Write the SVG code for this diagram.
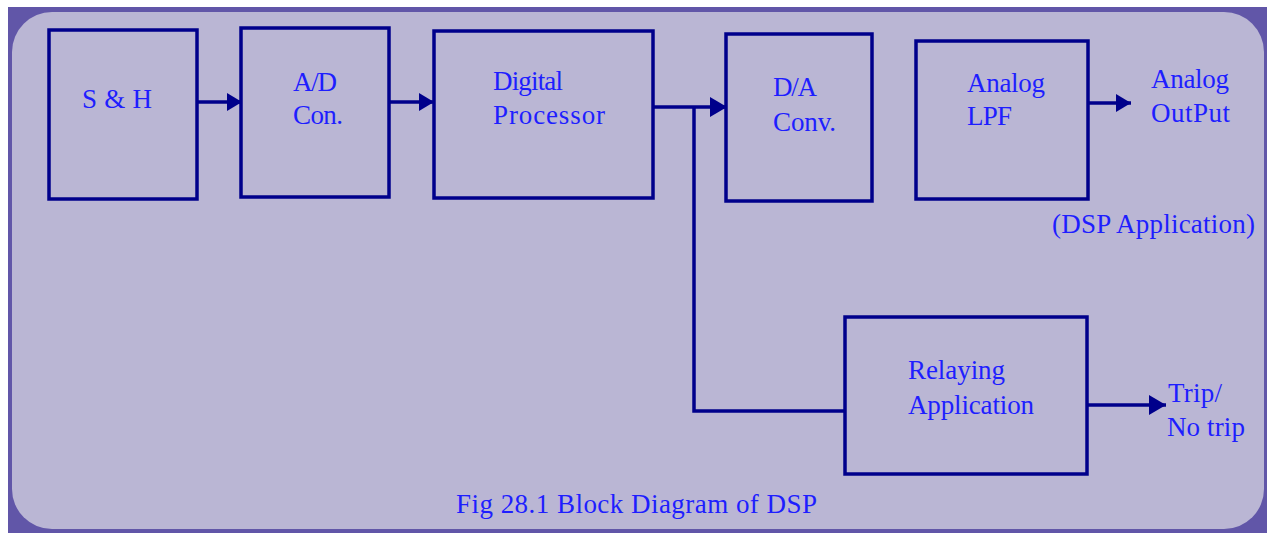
<svg xmlns="http://www.w3.org/2000/svg" width="1267" height="533" viewBox="0 0 1267 533">
<style>
.box{fill:none;stroke:#00008B;stroke-width:3.5}
.ln{fill:none;stroke:#00008B;stroke-width:3.5}
.t{font-family:"Liberation Serif","Times New Roman",serif;font-size:27px;fill:#1E1EFF}
</style>
<defs>
<marker id="ah" markerUnits="userSpaceOnUse" markerWidth="15" markerHeight="18" refX="15" refY="9" orient="auto">
<path d="M0,0 L15,9 L0,18 Z" fill="#00008B"/>
</marker>
<marker id="ah2" markerUnits="userSpaceOnUse" markerWidth="17" markerHeight="20" refX="17" refY="10" orient="auto">
<path d="M0,0 L17,10 L0,20 Z" fill="#00008B"/>
</marker>
</defs>
<rect x="8" y="7" width="1259" height="526" fill="#6156A8"/>
<rect x="12" y="12" width="1252" height="517" rx="40" ry="40" fill="#BAB6D4"/>

<g id="connectors">
<line class="ln" x1="197" y1="102" x2="242" y2="102" marker-end="url(#ah)"/>
<line class="ln" x1="389" y1="102" x2="434" y2="102" marker-end="url(#ah)"/>
<line class="ln" x1="653" y1="107" x2="727" y2="107" marker-end="url(#ah2)"/>
<polyline class="ln" points="694,107 694,411 845,411"/>
<line class="ln" x1="1088" y1="103" x2="1131" y2="103" marker-end="url(#ah)"/>
<line class="ln" x1="1088" y1="405" x2="1166" y2="405" marker-end="url(#ah2)"/>
</g>

<g id="sh">
<rect class="box" x="49" y="30" width="148" height="169"/>
<text class="t" x="82" y="108" textLength="70">S &amp; H</text>
</g>
<g id="ad">
<rect class="box" x="241" y="28" width="148" height="169"/>
<text class="t" x="293" y="91" textLength="44">A/D</text>
<text class="t" x="293" y="124" textLength="50">Con.</text>
</g>
<g id="dp">
<rect class="box" x="434" y="31" width="219" height="167"/>
<text class="t" x="493" y="90" textLength="70">Digital</text>
<text class="t" x="493" y="124" textLength="112">Processor</text>
</g>
<g id="da">
<rect class="box" x="726" y="34" width="146" height="167"/>
<text class="t" x="773" y="96" textLength="44">D/A</text>
<text class="t" x="773" y="131" textLength="63">Conv.</text>
</g>
<g id="lpf">
<rect class="box" x="916" y="41" width="172" height="158"/>
<text class="t" x="967" y="92" textLength="78">Analog</text>
<text class="t" x="967" y="125" textLength="45">LPF</text>
</g>
<g id="out">
<text class="t" x="1151" y="88" textLength="78">Analog</text>
<text class="t" x="1151" y="122" textLength="79">OutPut</text>
<text class="t" x="1052" y="233" textLength="203">(DSP Application)</text>
</g>
<g id="relay">
<rect class="box" x="845" y="317" width="242" height="157"/>
<text class="t" x="908" y="379" textLength="97">Relaying</text>
<text class="t" x="908" y="414" textLength="126">Application</text>
</g>
<g id="trip">
<text class="t" x="1168" y="402" textLength="54">Trip/</text>
<text class="t" x="1167" y="436" textLength="78">No trip</text>
</g>
<g id="caption">
<text class="t" x="456" y="513" textLength="361">Fig 28.1 Block Diagram of DSP</text>
</g>
</svg>
